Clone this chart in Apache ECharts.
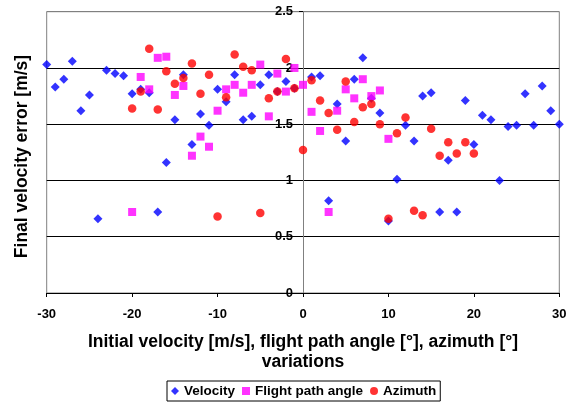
<!DOCTYPE html>
<html>
<head>
<meta charset="utf-8">
<script src="https://cdn.jsdelivr.net/npm/echarts@6/dist/echarts.min.js"></script>
<style>html,body{margin:0;padding:0;background:#fff}#c{width:573px;height:405px}</style>
</head>
<body>
<div id="c"></div>
<script>
const xTicks = [-30, -20, -10, 0, 10, 20, 30];
const yTicks = [0, 0.5, 1, 1.5, 2, 2.5];

const velocityX = [-30,-29,-28,-27,-26,-25,-24,-23,-22,-21,-20,-19,-18,-17,-16,-15,-14,-13,-12,-11,-10,-9,-8,-7,-6,-5,-4,-3,-2,-1,1,2,3,4,5,6,7,8,9,10,11,12,13,14,15,16,17,18,19,20,21,22,23,24,25,26,27,28,29,30];
const velocityY = [2.03,1.83,1.90,2.06,1.62,1.76,0.66,1.98,1.95,1.93,1.77,1.81,1.78,0.72,1.16,1.54,1.94,1.32,1.59,1.49,1.81,1.70,1.94,1.54,1.57,1.85,1.94,1.79,1.88,1.82,1.92,1.93,0.82,1.68,1.35,1.90,2.09,1.73,1.60,0.64,1.01,1.49,1.35,1.75,1.78,0.72,1.18,0.72,1.71,1.32,1.58,1.54,1.00,1.48,1.49,1.77,1.49,1.84,1.62,1.50];

const flightPathX = [-20,-19,-18,-17,-16,-15,-14,-13,-12,-11,-10,-9,-8,-7,-6,-5,-4,-3,-2,-1,0,1,2,3,4,5,6,7,8,9,10];
const flightPathY = [0.72,1.92,1.81,2.09,2.10,1.76,1.84,1.22,1.39,1.30,1.62,1.81,1.85,1.78,1.85,2.03,1.57,1.95,1.79,2.00,1.85,1.61,1.44,0.72,1.62,1.81,1.73,1.90,1.75,1.80,1.37];

const azimuthX = [-20,-19,-18,-17,-16,-15,-14,-13,-12,-11,-10,-9,-8,-7,-6,-5,-4,-3,-2,-1,0,1,2,3,4,5,6,7,8,9,10,11,12,13,14,15,16,17,18,19,20];
const azimuthY = [1.64,1.79,2.17,1.63,1.97,1.86,1.91,2.04,1.77,1.94,0.68,1.74,2.12,2.01,1.98,0.71,1.73,1.79,2.08,1.82,1.27,1.89,1.71,1.60,1.45,1.88,1.52,1.65,1.68,1.50,0.66,1.42,1.56,0.73,0.69,1.46,1.22,1.34,1.24,1.34,1.24];

const seriesNames = ['Velocity', 'Flight path angle', 'Azimuth'];
const xTitle = 'Initial velocity [m/s], flight path angle [°], azimuth [°]\nvariations';
const yTitle = 'Final velocity error [m/s]';

function pairs(xs, ys) { return xs.map((x, i) => [x, ys[i]]); }

const FONT = 'Liberation Sans, Arial, sans-serif';
const GRID_LEFT = 46.7, GRID_RIGHT = 13.7, W = 573;
// y axis sits where x = 0 (middle of the x range)
const yAxisOffset = -((W - GRID_LEFT - GRID_RIGHT) * (0 - xTicks[0]) / (xTicks[xTicks.length - 1] - xTicks[0]));

const chart = echarts.init(document.getElementById('c'), null, {renderer: 'canvas'});
chart.setOption({
  animation: false,
  backgroundColor: '#fff',
  textStyle: {fontFamily: FONT},
  grid: {left: GRID_LEFT, right: GRID_RIGHT, top: 11.7, bottom: 112, show: true, borderColor: '#808080', borderWidth: 1, containLabel: false, outerBoundsMode: 'none'},
  xAxis: {
    type: 'value', min: xTicks[0], max: xTicks[xTicks.length - 1], interval: 10,
    axisLine: {show: true, onZero: false, lineStyle: {color: '#000', width: 1}},
    axisTick: {show: true, length: 4, lineStyle: {color: '#000'}},
    axisLabel: {color: '#000', fontWeight: 'bold', fontSize: 13, fontFamily: FONT, margin: 15},
    splitLine: {show: false},
    name: xTitle, nameLocation: 'middle', nameGap: 39,
    nameTextStyle: {color: '#000', fontWeight: 'bold', fontSize: 17.5, fontFamily: FONT, lineHeight: 20}
  },
  yAxis: {
    type: 'value', position: 'left', offset: yAxisOffset,
    min: yTicks[0], max: yTicks[yTicks.length - 1], interval: 0.5,
    axisLine: {show: true, onZero: false, lineStyle: {color: '#808080', width: 1}},
    axisTick: {show: true, length: 4, lineStyle: {color: '#000'}},
    axisLabel: {color: '#000', fontWeight: 'bold', fontSize: 13, fontFamily: FONT, margin: 10},
    splitLine: {show: true, lineStyle: {color: ['#000', '#000', '#000', '#000', '#000', '#808080'], width: 1}}
  },
  graphic: [{
    type: 'text', x: 21.7, y: 156.5, rotation: Math.PI / 2,
    style: {text: yTitle, fill: '#000', font: 'bold 17.5px ' + FONT, textAlign: 'center', textVerticalAlign: 'middle'}
  }],
  legend: {
    data: [
      {name: seriesNames[0], icon: 'diamond'},
      {name: seriesNames[1], icon: 'rect'},
      {name: seriesNames[2], icon: 'circle'}
    ],
    left: 167, top: 381, itemWidth: 8, itemHeight: 8, itemGap: 7,
    padding: [3, 4, 3, 4], borderColor: '#000', borderWidth: 1, backgroundColor: '#fff',
    textStyle: {color: '#000', fontWeight: 'bold', fontSize: 13.5, fontFamily: FONT}
  },
  series: [
    {name: seriesNames[0], type: 'scatter', clip: false, symbol: 'diamond', symbolSize: [9, 9],
     itemStyle: {color: '#0000FF'}, data: pairs(velocityX, velocityY)},
    {name: seriesNames[1], type: 'scatter', clip: false, symbol: 'rect', symbolSize: 8,
     itemStyle: {color: '#FF00FF'}, data: pairs(flightPathX, flightPathY)},
    {name: seriesNames[2], type: 'scatter', clip: false, symbol: 'circle', symbolSize: 8.5,
     itemStyle: {color: '#FF0000'}, data: pairs(azimuthX, azimuthY)}
  ]
});
</script>
</body>
</html>
